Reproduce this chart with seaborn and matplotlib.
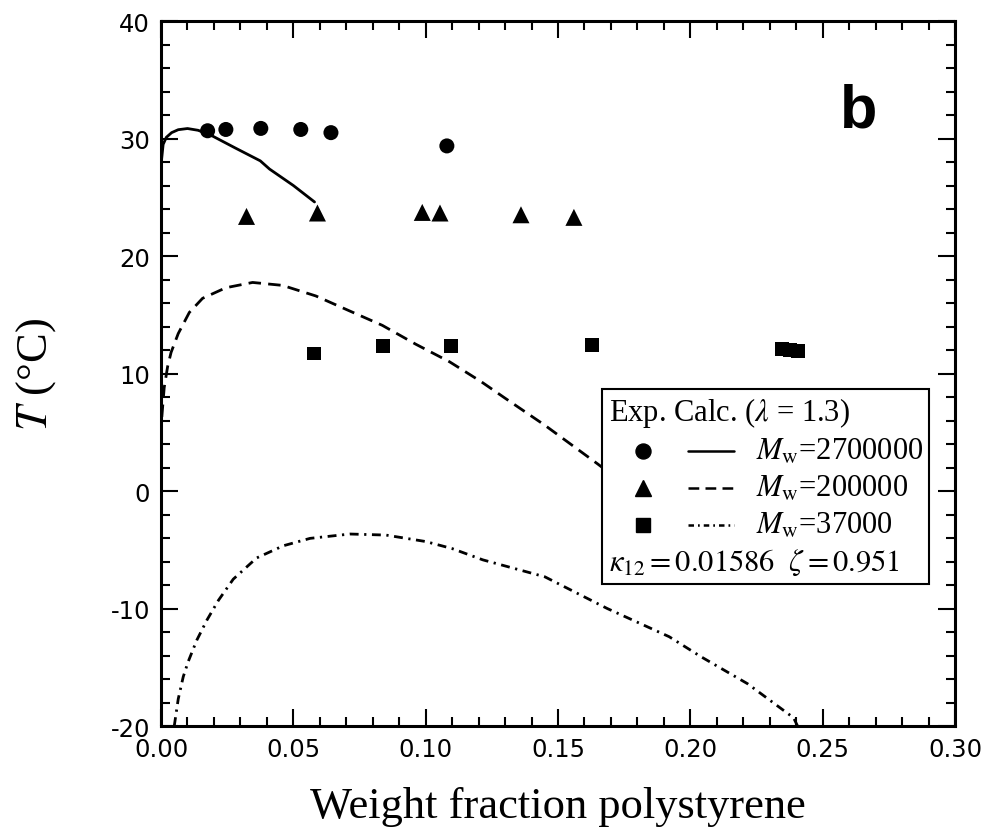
import numpy as np
import pandas as pd
import matplotlib
matplotlib.use("Agg")
import matplotlib.pyplot as plt
import seaborn as sns
from matplotlib.ticker import MultipleLocator, FormatStrFormatter
from matplotlib.offsetbox import AnchoredOffsetbox, VPacker, HPacker, TextArea, DrawingArea
from matplotlib.lines import Line2D

# ---------------- data ----------------
# Experimental cloud points
exp_circle_x = [0.0176, 0.0245, 0.0377, 0.0528, 0.0642, 0.108]
exp_circle_T = [30.66, 30.77, 30.86, 30.77, 30.5, 29.37]

exp_tri_x = [0.0323, 0.0591, 0.0987, 0.1054, 0.136, 0.156]
exp_tri_T = [23.37, 23.66, 23.71, 23.66, 23.51, 23.29]

exp_sq_x = [0.0579, 0.0839, 0.1094, 0.163, 0.2345, 0.2375, 0.2405]
exp_sq_T = [11.7, 12.34, 12.34, 12.4, 12.05, 12.0, 11.95]

# Calculated curves
calc_27M_x = [0.0002, 0.0008, 0.002, 0.004, 0.0065, 0.010, 0.014, 0.0187,
              0.028, 0.0375, 0.041, 0.050, 0.058]
calc_27M_T = [28.2, 29.5, 30.1, 30.5, 30.75, 30.85, 30.7, 30.3,
              29.2, 28.1, 27.4, 26.0, 24.6]

calc_200k_x = [0.0003, 0.0012, 0.0025, 0.0038, 0.0065, 0.0107, 0.0157, 0.0245,
               0.0346, 0.0459, 0.0585, 0.071, 0.0836, 0.0962, 0.109, 0.121,
               0.130, 0.145, 0.165, 0.172]
calc_200k_T = [6.3, 8.8, 10.6, 11.8, 13.4, 15.2, 16.4, 17.3,
               17.75, 17.5, 16.6, 15.35, 14.1, 12.5, 11.0, 9.3,
               7.9, 5.6, 2.3, 1.1]

calc_37k_x = [0.0050, 0.0065, 0.0084, 0.0103, 0.0135, 0.0173, 0.0217, 0.0273,
              0.0361, 0.0462, 0.0563, 0.0714, 0.085, 0.100, 0.110, 0.1216,
              0.145, 0.1686, 0.192, 0.204, 0.2216, 0.239, 0.2405]
calc_37k_T = [-20.0, -17.7, -15.8, -14.5, -12.7, -11.0, -9.3, -7.5,
              -5.7, -4.66, -4.03, -3.66, -3.75, -4.3, -4.9, -5.86,
              -7.3, -10.0, -12.4, -14.1, -16.4, -19.3, -20.0]

legend_labels = ["$M_\\mathrm{w}$=2700000", "$M_\\mathrm{w}$=200000", "$M_\\mathrm{w}$=37000"]
legend_header = "Exp. Calc. ($\\lambda$ = 1.3)"
legend_footer = "$\\kappa_{12} = 0.01586\\ \\ \\zeta = 0.951$"

x_ticks = [0.00, 0.05, 0.10, 0.15, 0.20, 0.25, 0.30]
y_ticks = [-20, -10, 0, 10, 20, 30, 40]

# ---------------- style ----------------
sns.set_theme(style="ticks")
plt.rcParams["font.family"] = ["Liberation Serif", "DejaVu Serif"]
plt.rcParams["mathtext.fontset"] = "stix"
plt.rcParams["axes.unicode_minus"] = False
for key in ["text.color", "axes.labelcolor", "xtick.color", "ytick.color",
            "xtick.labelcolor", "ytick.labelcolor", "axes.edgecolor"]:
    plt.rcParams[key] = "black"

fig = plt.figure(figsize=(9.94, 8.37), dpi=100)
ax = fig.add_axes([0.162, 0.1314, 0.7988, 0.8423])
ax.set_facecolor("white")
fig.patch.set_facecolor("white")

# curves
lw = 2.0
sns.lineplot(x=calc_27M_x, y=calc_27M_T, sort=False, estimator=None, color="black",
             lw=lw, linestyle="-", ax=ax, zorder=2)
sns.lineplot(x=calc_200k_x, y=calc_200k_T, sort=False, estimator=None, color="black",
             lw=lw, linestyle=(0, (4.5, 2.6)), ax=ax, zorder=2)
sns.lineplot(x=calc_37k_x, y=calc_37k_T, sort=False, estimator=None, color="black",
             lw=lw, linestyle=(0, (3.2, 2.0, 0.8, 2.0)), ax=ax, zorder=2)

# points
sns.scatterplot(x=exp_circle_x, y=exp_circle_T, marker="o", s=117, color="black",
                edgecolor="none", ax=ax, zorder=3)
sns.scatterplot(x=exp_tri_x, y=exp_tri_T, marker="^", s=150, color="black",
                edgecolor="none", ax=ax, zorder=3)
sns.scatterplot(x=exp_sq_x, y=exp_sq_T, marker="s", s=100, color="black",
                edgecolor="none", ax=ax, zorder=3)

# axes
ax.set_xlim(0, 0.30)
ax.set_ylim(-20, 40)
ax.set_xticks(x_ticks)
ax.set_yticks(y_ticks)
ax.xaxis.set_major_formatter(FormatStrFormatter("%.2f"))
ax.yaxis.set_major_formatter(FormatStrFormatter("%d"))
ax.xaxis.set_minor_locator(MultipleLocator(0.01))
ax.yaxis.set_minor_locator(MultipleLocator(2))
ax.tick_params(which="both", direction="in", top=True, right=True, color="black",
               labelcolor="black", width=1.5)
ax.tick_params(which="major", length=12.5, pad=8, labelsize=17.5)
ax.tick_params(which="minor", length=6.5)
for lab in ax.get_xticklabels() + ax.get_yticklabels():
    lab.set_fontfamily(["DejaVu Sans"])
for sp in ax.spines.values():
    sp.set_visible(True)
    sp.set_linewidth(2.2)
    sp.set_color("black")

ax.set_xlabel("Weight fraction polystyrene", fontsize=32, color="black")
ax.set_ylabel("$T$ (°C)", fontsize=32, color="black")
ax.yaxis.set_label_coords(-0.13, 0.5)
ax.xaxis.set_label_coords(0.5, -0.085)
ax.xaxis.label.set_va("top")

ax.text(0.2637, 32.3, "b", fontsize=44, fontweight="bold", family=["Liberation Sans"],
        color="black", ha="center", va="center")

# custom legend
tp = dict(family=["Liberation Serif"], size=22, color="black")
rows = [TextArea(legend_header, textprops=tp)]
styles = [("o", 10.8, "-"), ("^", 12.0, (0, (4.3, 2.5))), ("s", 10.0, (0, (2.2, 1.6, 0.7, 1.6)))]
for (mk, ms, ls), lab in zip(styles, legend_labels):
    da_m = DrawingArea(57, 18, 0, 0)
    da_m.add_artist(Line2D([25], [9], marker=mk, markersize=ms, color="black",
                           linestyle="none"))
    da_l = DrawingArea(49, 18, 0, 0)
    da_l.add_artist(Line2D([0, 33], [9, 9], color="black", lw=1.8, linestyle=ls))
    rows.append(HPacker(children=[da_m, da_l, TextArea(lab, textprops=tp)],
                        align="center", pad=0, sep=0))
rows.append(TextArea(legend_footer, textprops=tp))
box = VPacker(children=rows, align="left", pad=0, sep=5.5)
anch = AnchoredOffsetbox(loc="upper left", child=box, pad=0.2, borderpad=0,
                         frameon=True, prop=dict(size=22),
                         bbox_to_anchor=(0.556, 0.478), bbox_transform=ax.transAxes)
anch.patch.set_linewidth(1.5)
anch.patch.set_edgecolor("black")
anch.patch.set_facecolor("white")
anch.set_zorder(5)
ax.add_artist(anch)

fig.savefig("out.png", dpi=100, facecolor="white")
